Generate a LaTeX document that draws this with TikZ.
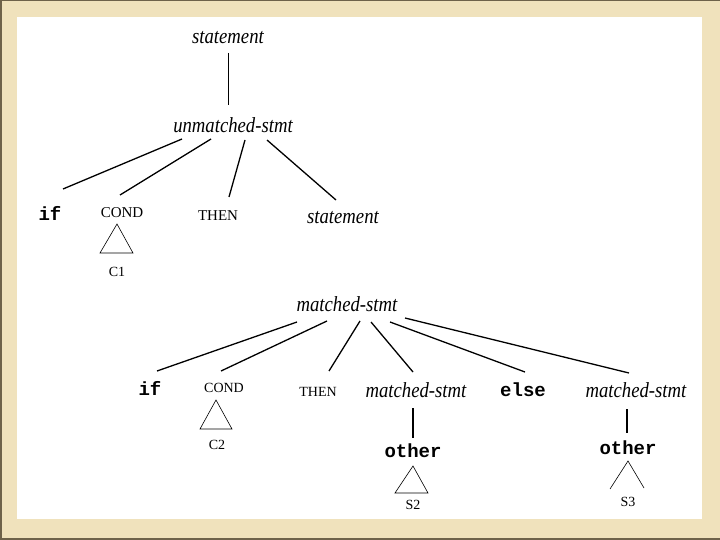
\documentclass[tikz,border=0pt]{standalone}
\usepackage{fontspec}
\setmainfont{Liberation Serif}
\newfontfamily\monob{Liberation Mono}
\newfontfamily\condserif[FakeStretch=0.87]{Liberation Serif}
\definecolor{framebeige}{RGB}{240,226,188}
\definecolor{framedark}{RGB}{110,98,74}
\begin{document}
\begin{tikzpicture}[x=1pt,y=-1pt,
  nt/.style={inner sep=0pt, font=\fontsize{21.5}{24}\selectfont\condserif\itshape},
  tt/.style={inner sep=0pt, font=\fontsize{19}{22}\selectfont\monob\bfseries},
  rm/.style={inner sep=0pt, font=\fontsize{15}{18}\selectfont},
  rms/.style={inner sep=0pt, font=\fontsize{14}{17}\selectfont},
  br/.style={line width=1.3pt},
  stem/.style={line width=0.8pt},
  tri/.style={line width=0.6pt}]
% frame
\useasboundingbox (0,0) rectangle (720,540);
\fill[framebeige] (0,0) rectangle (720,540);
\fill[white] (17,17) rectangle (702,519);
\fill[framedark] (0,0) rectangle (2,540);
\fill[framedark] (0,0) rectangle (720,1);
\fill[framedark] (0,538) rectangle (720,540);

% upper tree
\node[nt] (st1) at (228,38) {statement};
\node[nt] (um) at (233,125) {unmatched-stmt};
\node[tt] (if1) at (50,213) {if};
\node[rm] (cond1) at (122,213) {COND};
\node[rms] (c1) at (117,272) {C1};
\node[rm] (then1) at (218,216) {THEN};
\node[nt] (st2) at (343,218) {statement};

\draw[stem] ([yshift=-15pt]st1.center) -- ([xshift=-5pt,yshift=20pt]um.center);
\draw[br] ([xshift=-51pt,yshift=-14pt]um.center) -- ([xshift=13pt,yshift=24pt]if1.center);
\draw[br] ([xshift=-22pt,yshift=-14pt]um.center) -- ([xshift=-2pt,yshift=18pt]cond1.center);
\draw[br] ([xshift=12pt,yshift=-15pt]um.center) -- ([xshift=11pt,yshift=19pt]then1.center);
\draw[br] ([xshift=34pt,yshift=-15pt]um.center) -- ([xshift=-7pt,yshift=18pt]st2.center);
\draw[tri] ([xshift=-5pt,yshift=-11pt]cond1.center) -- ([xshift=-17pt,yshift=19pt]c1.center)
  -- ([xshift=16pt,yshift=19pt]c1.center) -- cycle;

% lower tree
\node[nt] (ms) at (347,304) {matched-stmt};
\node[tt] (if2) at (150,388) {if};
\node[rms] (cond2) at (224,388) {COND};
\node[rms] (then2) at (318,392) {THEN};
\node[nt] (ms2) at (416,390) {matched-stmt};
\node[tt] (else) at (523,390) {else};
\node[nt] (ms3) at (636,390) {matched-stmt};
\node[rms] (c2) at (217,445) {C2};
\node[tt] (oth2) at (413,451) {other};
\node[rms] (s2) at (413,505) {S2};
\node[tt] (oth3) at (628,448) {other};
\node[rms] (s3) at (628,502) {S3};

\draw[br] ([xshift=-50pt,yshift=-18pt]ms.center) -- ([xshift=7pt,yshift=17pt]if2.center);
\draw[br] ([xshift=-20pt,yshift=-17pt]ms.center) -- ([xshift=-3pt,yshift=17pt]cond2.center);
\draw[br] ([xshift=13pt,yshift=-17pt]ms.center) -- ([xshift=11pt,yshift=21pt]then2.center);
\draw[br] ([xshift=24pt,yshift=-18pt]ms.center) -- ([xshift=-3pt,yshift=18pt]ms2.center);
\draw[br] ([xshift=43pt,yshift=-18pt]ms.center) -- ([xshift=2pt,yshift=18pt]else.center);
\draw[br] ([xshift=58pt,yshift=-14pt]ms.center) -- ([xshift=-7pt,yshift=17pt]ms3.center);

\draw[line width=1.6pt] ([xshift=-3pt,yshift=-18pt]ms2.center) -- ([yshift=13pt]oth2.center);
\draw[line width=1.2pt] ([xshift=-9pt,yshift=-19pt]ms3.center) -- ([xshift=-1pt,yshift=15pt]oth3.center);

\draw[tri] ([xshift=-8pt,yshift=-12pt]cond2.center) -- ([xshift=-17pt,yshift=16pt]c2.center)
  -- ([xshift=15pt,yshift=16pt]c2.center) -- cycle;
\draw[tri] ([yshift=-15pt]oth2.center) -- ([xshift=-18pt,yshift=12pt]s2.center)
  -- ([xshift=15pt,yshift=12pt]s2.center) -- cycle;
\draw[tri] ([xshift=-18pt,yshift=13pt]s3.center) -- ([yshift=-13pt]oth3.center)
  -- ([xshift=16pt,yshift=14pt]s3.center);
\end{tikzpicture}
\end{document}
